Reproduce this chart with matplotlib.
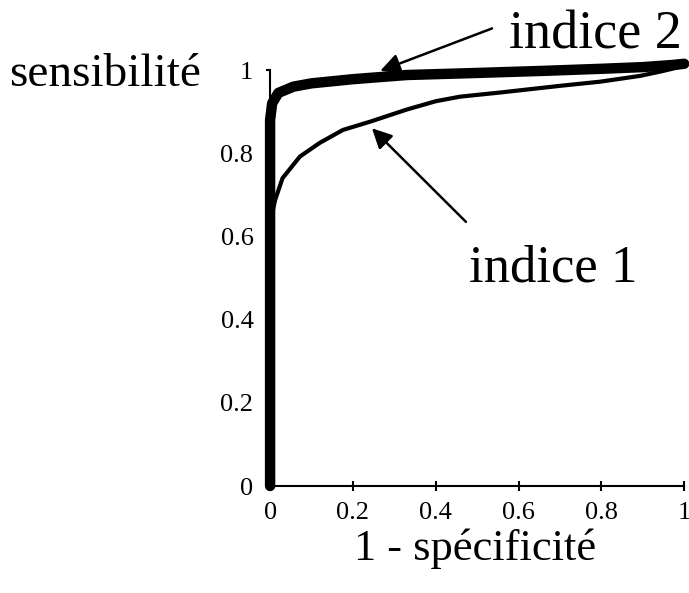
import numpy as np
import matplotlib.pyplot as plt

plt.rcParams['font.family'] = 'Liberation Serif'

# ROC curves
fpr2 = [0, 0, 0.005, 0.02, 0.056, 0.1, 0.2, 0.33, 0.5, 0.66, 0.8, 0.9, 0.97, 1.0]
tpr2 = [0, 0.88, 0.92, 0.945, 0.96, 0.968, 0.978, 0.988, 0.993, 0.998, 1.003, 1.007, 1.012, 1.015]

fpr1 = [0, 0, 0.004, 0.012, 0.03, 0.072, 0.12, 0.176, 0.242, 0.33, 0.4, 0.459, 0.556, 0.7, 0.797, 0.894, 0.95, 1.0]
tpr1 = [0, 0.6, 0.65, 0.687, 0.74, 0.792, 0.825, 0.856, 0.876, 0.905, 0.925, 0.936, 0.946, 0.962, 0.972, 0.986, 0.998, 1.01]

ticks = [0, 0.2, 0.4, 0.6, 0.8, 1]
tick_labels = ['0', '0.2', '0.4', '0.6', '0.8', '1']

fig = plt.figure(figsize=(6.89, 5.93), dpi=100)
ax = fig.add_axes([0.392, 0.1804, 0.601, 0.7015])

ax.plot(fpr1, tpr1, color='k', lw=3.0, solid_capstyle='round', solid_joinstyle='round', clip_on=False)
ax.plot(fpr2, tpr2, color='k', lw=7.5, solid_capstyle='round', solid_joinstyle='round', clip_on=False)

ax.set_xlim(0, 1)
ax.set_ylim(0, 1)
ax.set_xticks(ticks)
ax.set_xticklabels(tick_labels)
ax.set_yticks(ticks)
ax.set_yticklabels(tick_labels)
ax.tick_params(axis='x', direction='inout', length=7, width=1.5, labelsize=19, pad=8)
ax.tick_params(axis='y', direction='out', length=3, width=1.5, labelsize=19, pad=9)
for s in ['top', 'right']:
    ax.spines[s].set_visible(False)
for s in ['left', 'bottom']:
    ax.spines[s].set_linewidth(1.5)

ax.text(-0.399, 0.988, 'sensibilité', fontsize=34, ha='center', va='center')
ax.text(0.495, -0.15, '1 - spécificité', fontsize=32, ha='center', va='center')

arr = dict(arrowstyle='-|>', mutation_scale=30, lw=1.8, color='k', shrinkA=0, shrinkB=0)
ax.annotate('', xy=(0.266, 0.998), xytext=(0.536, 1.10), arrowprops=arr, annotation_clip=False)
ax.text(0.785, 1.084, 'indice 2', fontsize=39, ha='center', va='center')
ax.annotate('', xy=(0.246, 0.86), xytext=(0.473, 0.635), arrowprops=arr, annotation_clip=False)
ax.text(0.684, 0.524, 'indice 1', fontsize=38, ha='center', va='center')

fig.savefig('out.png', dpi=100)
